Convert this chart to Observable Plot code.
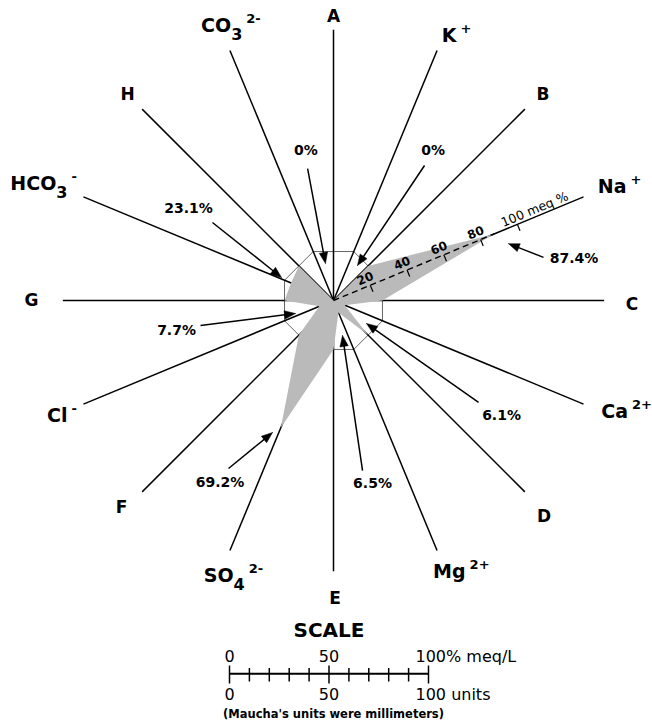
<!DOCTYPE html>
<html><head><meta charset="utf-8">
<script src="https://cdn.jsdelivr.net/npm/d3@7"></script>
<script src="https://cdn.jsdelivr.net/npm/@observablehq/plot@0.6"></script>
<style>body{margin:0;background:#fff} svg{display:block}</style>
</head><body><div id="chart"></div>
<script>
// ---------- data ----------
const letters = ["A", "B", "C", "D", "E", "F", "G", "H"];
const letterAngles = [0, 45, 90, 135, 180, 225, 270, 315];
const ionBase = ["K", "Na", "Ca", "Mg", "SO", "Cl", "HCO", "CO"];
const ionSub = ["", "", "", "", "4", "", "3", "3"];
const ionSup = ["+", "+", "2+", "2+", "2-", "-", "-", "2-"];
const ionAngles = [22.5, 67.5, 112.5, 157.5, 202.5, 247.5, 292.5, 337.5];
const ionPercent = [0, 87.4, 6.1, 6.5, 69.2, 7.7, 23.1, 0];
const wingRadius = 24.6;           // meq % radius of kite wings / reference octagon
const spokeLength = 136;           // meq % units
const naTickValues = [20, 40, 60, 80];
const naEndValue = 100;
const scaleTicks = [0, 10, 20, 30, 40, 50, 60, 70, 80, 90, 100];
const scaleMajor = [0, 50, 100];
const scaleTopLabels = ["0", "50", "100% meq/L"];
const scaleBottomLabels = ["0", "50", "100 units"];

// ---------- layout (pixels) ----------
const W = 652, H = 727, CX = 333, CY = 300, k = 1.99; // px per meq %
const letterLabelPolar = [[0,283.5],[45.5,293.8],[90.7,298.5],[135.7,301.6],[179.7,298.5],[225.6,296.6],[270,302],[315,291.3]];
const ionLabelPolar = [[24.9,292.2],[68.3,308],[110.8,313.5],[154.8,300.2],[200,292.6],[247,295],[291.9,312.5],[339.5,293]];
const pctLabelPolar = [[33.6,180],[80.2,244.1],[124.5,203.9],[168,187.6],[212,214.1],[259,159.9],[302.5,172],[349.6,152.5]];
const pctArrowFrom = [[34,162.8],[78.4,214.4],[125.1,177.3],[170.3,172.5],[212,198.1],[259.4,135.3],[302.8,144],[348.9,134.5]];
const pctArrowTo = [[34.4,42.4],[72,184],[124.9,40.2],[165.6,36.1],[204.8,145.4],[251.1,40.2],[293.9,56.9],[347.8,37.9]];
const scaleLayout = {x0: 229, titleY: 630.5, topY: 656.5, axisY: 673.3, bottomY: 694, noteY: 714};

// ---------- helpers ----------
const rad = d => d * Math.PI / 180;
const polar = (a, r) => ({x: r * Math.sin(rad(a)), y: r * Math.cos(rad(a))});
const P = ([a, r]) => polar(a, r / k);
const uy = py => (CY - py) / k;
const sx = v => (scaleLayout.x0 - CX) / k + v;

// kite polygon
const kite = [];
letterAngles.forEach((a, i) => {
  kite.push(polar(a, wingRadius));
  kite.push(polar(ionAngles[i], ionPercent[i]));
});
kite.push(kite[0]);

// reference octagon
const octR = wingRadius / Math.cos(rad(22.5));
const octagon = ionAngles.concat([ionAngles[0]]).map(a => polar(a, octR));

// spokes
const spokes = letterAngles.concat(ionAngles).map(a => {
  const e = polar(a, spokeLength);
  return {x1: 0, y1: 0, x2: e.x, y2: e.y};
});

// Na+ internal axis
const naIndex = 1, naA = ionAngles[naIndex];
const naApex = polar(naA, ionPercent[naIndex]);
const along = {x: Math.sin(rad(naA)), y: Math.cos(rad(naA))};
const perpDown = {x: Math.cos(rad(naA)), y: -Math.sin(rad(naA))};
const naTicks = naTickValues.concat([naEndValue]).map(v => {
  const p = polar(naA, v);
  return {x1: p.x, y1: p.y, x2: p.x + perpDown.x * 7 / k, y2: p.y + perpDown.y * 7 / k};
});
const naTickLabels = naTickValues.map(v => {
  const p = polar(naA, v);
  return {x: p.x - perpDown.x * 8 / k - along.x * 2 / k, y: p.y - perpDown.y * 8 / k - along.y * 2 / k, t: String(v)};
});
const naEnd = (() => {
  const p = polar(naA, naEndValue - 14 / k);
  return [{x: p.x - perpDown.x * 7 / k, y: p.y - perpDown.y * 7 / k, t: naEndValue + " meq %"}];
})();

// labels
const letterLabels = letters.map((l, i) => ({...P(letterLabelPolar[i]), t: l}));
const ionLabels = ionBase.map((b, i) => ({...P(ionLabelPolar[i]), t: b + "|" + ionSub[i] + "|" + ionSup[i]}));
const pctLabels = ionPercent.map((v, i) => ({...P(pctLabelPolar[i]), t: v + "%"}));

// arrows
const arrowLines = [], arrowHeads = [];
ionPercent.forEach((v, i) => {
  const f = P(pctArrowFrom[i]), t = P(pctArrowTo[i]);
  const dx = t.x - f.x, dy = t.y - f.y, L = Math.hypot(dx, dy);
  const u = {x: dx / L, y: dy / L}, n = {x: -u.y, y: u.x};
  const hl = 11 / k, hw = 4.2 / k;
  arrowLines.push({x1: f.x, y1: f.y, x2: t.x - u.x * hl * 0.8, y2: t.y - u.y * hl * 0.8});
  const b = {x: t.x - u.x * hl, y: t.y - u.y * hl};
  arrowHeads.push({x: t.x, y: t.y, z: i});
  arrowHeads.push({x: b.x + n.x * hw, y: b.y + n.y * hw, z: i});
  arrowHeads.push({x: b.x - n.x * hw, y: b.y - n.y * hw, z: i});
  arrowHeads.push({x: t.x, y: t.y, z: i});
});

// scale bar
const ay = uy(scaleLayout.axisY);
const scaleTickLinks = scaleTicks.map(v => {
  const major = scaleMajor.includes(v);
  return {x: sx(v), y1: uy(major ? 665 : 667.5), y2: uy(major ? 683 : 681)};
});
const topLabels = scaleMajor.map((v, i) => ({x: sx(v), y: uy(scaleLayout.topY), t: scaleTopLabels[i], last: i === 2}));
const bottomLabels = scaleMajor.map((v, i) => ({x: sx(v), y: uy(scaleLayout.bottomY), t: scaleBottomLabels[i], last: i === 2}));

const chart = Plot.plot({
  width: W, height: H, margin: 0,
  x: {domain: [-CX / k, (W - CX) / k], range: [0, W], axis: null},
  y: {domain: [-(H - CY) / k, CY / k], range: [H, 0], axis: null},
  style: {fontFamily: "DejaVu Sans", background: "white", color: "black"},
  marks: [
    Plot.line(octagon, {x: "x", y: "y", stroke: "#666", strokeWidth: 1}),
    Plot.link(spokes, {x1: "x1", y1: "y1", x2: "x2", y2: "y2", stroke: "black", strokeWidth: 1.5}),
    Plot.line(kite, {x: "x", y: "y", fill: "#bababa", stroke: "none", curve: "linear"}),
    Plot.link([{x1: 0, y1: 0, x2: naApex.x, y2: naApex.y}], {x1: "x1", y1: "y1", x2: "x2", y2: "y2", stroke: "black", strokeWidth: 1.4, strokeDasharray: "6,4"}),
    Plot.link(naTicks, {x1: "x1", y1: "y1", x2: "x2", y2: "y2", stroke: "black", strokeWidth: 1.2}),
    Plot.text(naTickLabels, {x: "x", y: "y", text: "t", rotate: -(90 - naA), fontSize: 12, fontWeight: "bold", fill: "black"}),
    Plot.text(naEnd, {x: "x", y: "y", text: "t", rotate: -(90 - naA), fontSize: 12.5, textAnchor: "start", fill: "black"}),
    Plot.link(arrowLines, {x1: "x1", y1: "y1", x2: "x2", y2: "y2", stroke: "black", strokeWidth: 1.5}),
    Plot.line(arrowHeads, {x: "x", y: "y", z: "z", fill: "black", stroke: "black", strokeWidth: 0.5}),
    Plot.text(pctLabels, {x: "x", y: "y", text: "t", fontSize: 14, fontWeight: "bold", fill: "black"}),
    Plot.text(letterLabels, {x: "x", y: "y", text: "t", fontSize: 17, fontWeight: "bold", fill: "black"}),
    Plot.text(ionLabels, {x: "x", y: "y", text: "t", fontSize: 19, fontWeight: "bold", fill: "black"}),
    // scale
    Plot.text([{x: sx(50), y: uy(scaleLayout.titleY), t: "SCALE"}], {x: "x", y: "y", text: "t", fontSize: 20, fontWeight: "bold", fill: "black"}),
    Plot.link([{x1: sx(0), x2: sx(100), y: ay}], {x1: "x1", x2: "x2", y1: "y", y2: "y", stroke: "black", strokeWidth: 2}),
    Plot.link(scaleTickLinks, {x1: "x", x2: "x", y1: "y1", y2: "y2", stroke: "black", strokeWidth: 1.5}),
    Plot.text(topLabels.filter(d => !d.last), {x: "x", y: "y", text: "t", fontSize: 16, fill: "black"}),
    Plot.text(topLabels.filter(d => d.last), {x: "x", y: "y", text: "t", fontSize: 16, textAnchor: "start", dx: -13, fill: "black"}),
    Plot.text(bottomLabels.filter(d => !d.last), {x: "x", y: "y", text: "t", fontSize: 16, fill: "black"}),
    Plot.text(bottomLabels.filter(d => d.last), {x: "x", y: "y", text: "t", fontSize: 16, textAnchor: "start", dx: -13, fill: "black"}),
    Plot.text([{x: 0, y: uy(scaleLayout.noteY), t: "(Maucha's units were millimeters)"}], {x: "x", y: "y", text: "t", fontSize: 11.5, fontWeight: "bold", fill: "black"})
  ]
});

// sub/superscripts for ion labels
const NS = "http://www.w3.org/2000/svg";
chart.querySelectorAll("text").forEach(t => {
  const s = t.textContent;
  if (!s.includes("|")) return;
  const [base, sub, sup] = s.split("|");
  t.textContent = "";
  const b = document.createElementNS(NS, "tspan");
  b.textContent = base; t.appendChild(b);
  let shift = 0;
  if (sub) {
    const e = document.createElementNS(NS, "tspan");
    e.setAttribute("dx", "0"); e.setAttribute("dy", "8"); e.setAttribute("font-size", "16");
    e.textContent = sub; t.appendChild(e); shift = 8;
  }
  if (sup) {
    const e = document.createElementNS(NS, "tspan");
    e.setAttribute("dx", "4"); e.setAttribute("dy", String(-shift - 9)); e.setAttribute("font-size", "13");
    e.textContent = sup; t.appendChild(e);
  }
});
document.getElementById("chart").appendChild(chart);
</script>
</body></html>
